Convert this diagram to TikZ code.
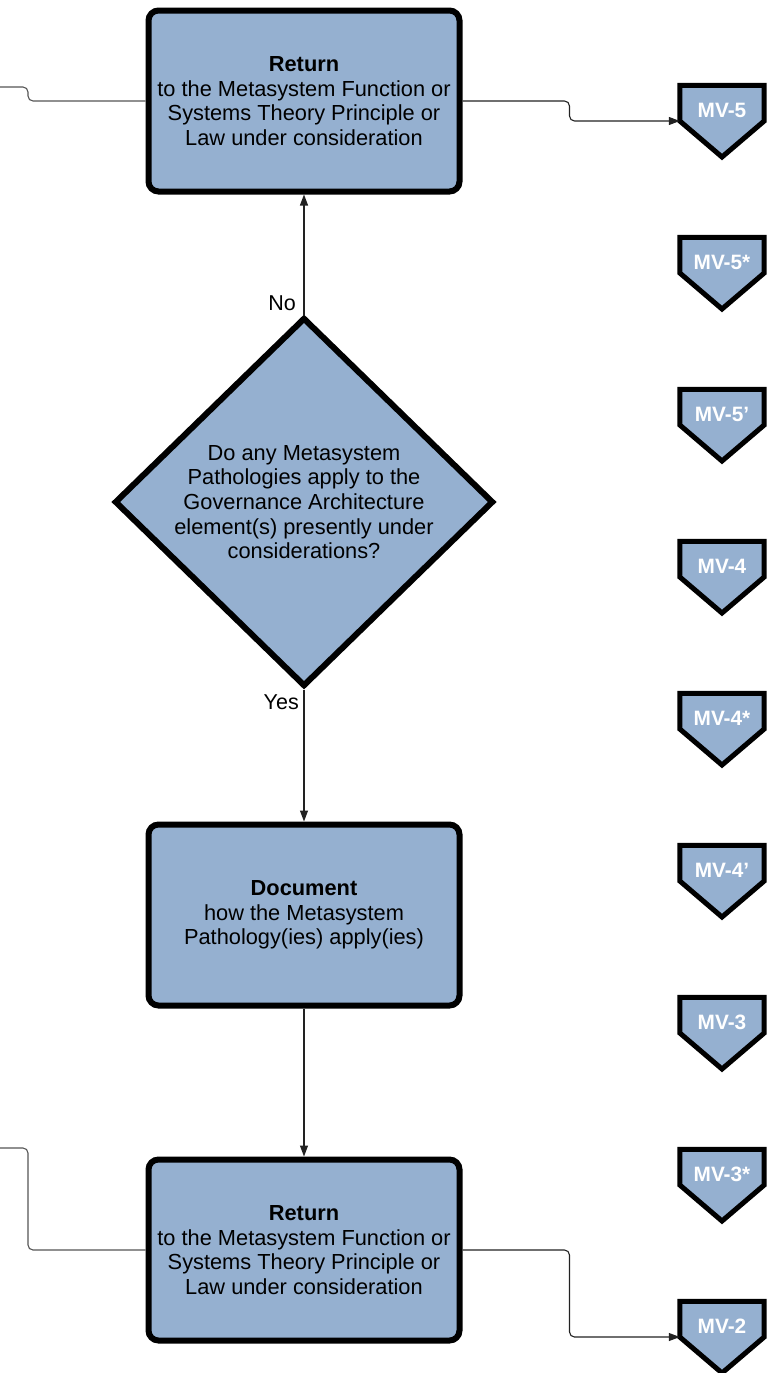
\documentclass[tikz,border=0pt]{standalone}
\usepackage{fontspec}
\setmainfont{Liberation Sans}
\usetikzlibrary{arrows.meta,positioning,shapes.geometric,backgrounds}
\definecolor{PathoBlue}{HTML}{95B0D0}
\definecolor{PathoLine}{HTML}{222222}
\definecolor{PathoFeed}{HTML}{555555}
\tikzset{
  flow/.style={-{Triangle[length=11pt,width=8pt]}, line width=1.1pt, draw=PathoLine},
  feed/.style={line width=1.1pt, draw=PathoFeed, rounded corners=5pt},
  stage/.style={rounded corners=10pt, draw=black, fill=PathoBlue, line width=6pt,
                minimum width=311pt, minimum height=181pt, align=center, inner sep=0pt,
                font=\fontsize{21.8}{24.6}\selectfont},
  query/.style={diamond, draw=black, fill=PathoBlue, line width=6pt, aspect=1.03,
                minimum width=379pt, minimum height=369pt, inner sep=0pt, align=center,
                font=\fontsize{21.8}{24.6}\selectfont},
  tag/.style={minimum width=84pt, minimum height=49pt, inner sep=0pt, text=white,
              font=\fontsize{20.8}{24}\selectfont\bfseries},
  tagshape/.style={draw=black, fill=PathoBlue, line width=5pt, line join=miter},
  answer/.style={inner sep=0pt, font=\fontsize{21.5}{24}\selectfont},
}
\begin{document}
\begin{tikzpicture}[x=1pt,y=-1pt]
    \useasboundingbox (0,0) rectangle (769,1373);
    \node[stage] (ret1) at (304,101) {\textbf{Return}\\to the Metasystem Function or\\Systems Theory Principle or\\Law under consideration};
    \node[query] (q) at (304,502) {Do any Metasystem\\Pathologies apply to the\\Governance Architecture\\element(s) presently under\\considerations?};
    \node[stage] (doc) at (304,915) {\textbf{Document}\\how the Metasystem\\Pathology(ies) apply(ies)};
    \node[stage] (ret2) at (304,1250) {\textbf{Return}\\to the Metasystem Function or\\Systems Theory Principle or\\Law under consideration};
    \node[answer,anchor=east] (no) at (296,303) {No};
    \node[answer,anchor=east] (yes) at (299,702) {Yes};
    % view tags down the right side
    \foreach \lab [count=\i from 0] in {MV-5,MV-5*,MV-5',MV-4,MV-4*,MV-4',MV-3,MV-3*,MV-2}{
      \node[tag] (mv\i) at (722,{110+152*\i}) {\lab};
      \begin{scope}[on background layer]
        \draw[tagshape] ([yshift=-11pt]mv\i.west) -- (mv\i.north west) -- (mv\i.north east)
          -- ([yshift=-11pt]mv\i.east) -- ([yshift=-47pt]mv\i.center) -- cycle;
      \end{scope}
    }
    \draw[flow] (q.north) -- (ret1.south);
    \draw[flow] (q.south) -- (doc.north);
    \draw[flow] (doc.south) -- (ret2.north);
    \draw[flow,rounded corners=5pt] (ret1.east) -- ++(107,0) |- ([yshift=-11pt]mv0.west);
    \draw[flow,rounded corners=5pt] (ret2.east) -- ++(107,0) |- ([yshift=-11pt]mv8.west);
    % lines coming in from off the page
    \coordinate (inA) at (0,87);
    \coordinate (inB) at (0,1148);
    \draw[feed] (inA) -- ++(28,0) |- (ret1.west);
    \draw[feed] (inB) -- ++(28,0) |- (ret2.west);
\end{tikzpicture}
\end{document}
